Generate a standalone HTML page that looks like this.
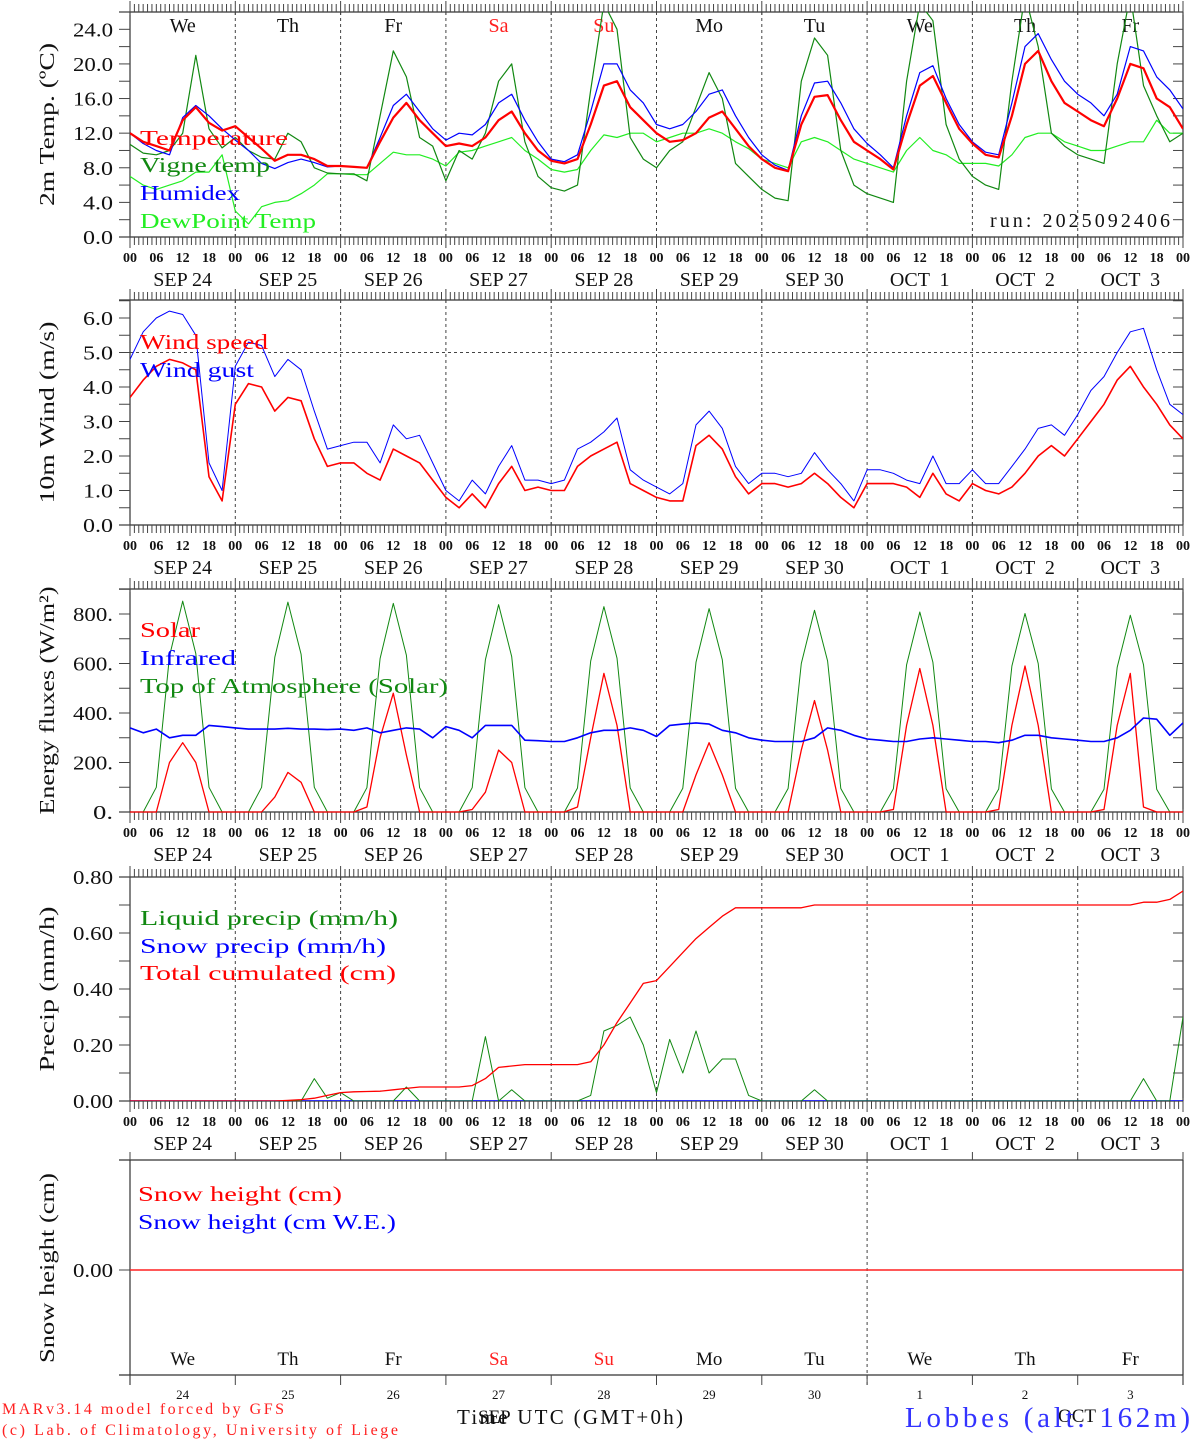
<!DOCTYPE html>
<html><head><meta charset="utf-8"><title>MAR forecast Lobbes</title>
<style>
html,body{margin:0;padding:0;background:#fff;}
svg{display:block;font-family:"Liberation Serif",serif;}
text{white-space:pre;}
</style></head>
<body>
<svg id="chart" width="1194" height="1440" viewBox="0 0 1194 1440" xmlns="http://www.w3.org/2000/svg">
<defs>
<clipPath id="c1"><rect x="130" y="12" width="1053" height="225"/></clipPath>
<clipPath id="c2"><rect x="130" y="300" width="1053" height="225"/></clipPath>
<clipPath id="c3"><rect x="130" y="589" width="1053" height="224"/></clipPath>
<clipPath id="c4"><rect x="130" y="877" width="1053" height="224"/></clipPath>
<clipPath id="c5"><rect x="130" y="1160" width="1053" height="215"/></clipPath>
</defs>
</svg>
<script>
// ---- data (3-hourly, SEP 24 00UTC .. OCT 4 00UTC) ----
const dayNames = ["We","Th","Fr","Sa","Su","Mo","Tu","We","Th","Fr"];
const dateLabels = ["SEP 24","SEP 25","SEP 26","SEP 27","SEP 28","SEP 29","SEP 30","OCT  1","OCT  2","OCT  3"];
const dateNums = ["24","25","26","27","28","29","30","1","2","3"];
const hourLabels = ["00","06","12","18"];

const temperature = [
12.0,11.0,10.5,10.0,13.5,15.0,13.2,12.3,
12.8,11.5,10.2,8.8,9.5,9.5,9.0,8.2,
8.2,8.1,8.0,11.0,13.8,15.5,13.5,12.0,
10.5,10.8,10.5,11.5,13.5,14.5,12.0,10.0,
8.8,8.5,9.0,13.0,17.5,18.0,15.0,13.5,
12.0,11.0,11.2,12.0,13.8,14.5,12.5,10.5,
9.0,8.0,7.6,13.0,16.2,16.4,13.5,11.0,
10.0,9.0,7.8,13.0,17.5,18.6,15.5,12.5,
10.8,9.5,9.2,14.0,20.0,21.5,18.0,15.5,
14.5,13.5,12.8,16.0,20.0,19.5,16.0,15.0,12.5];
const vigne = [
10.7,9.7,9.5,10.0,12.0,21.0,12.5,10.3,
11.5,10.0,9.2,9.0,12.0,11.0,8.0,7.4,
7.3,7.3,6.5,14.0,21.5,18.5,11.5,10.5,
6.5,10.0,9.0,12.0,18.0,20.0,11.0,7.0,
5.7,5.3,6.0,17.0,27.0,24.0,11.5,9.0,
8.0,10.0,11.0,15.0,19.0,16.0,8.5,7.0,
5.5,4.5,4.2,18.0,23.0,21.0,10.0,6.0,
5.0,4.5,4.0,18.0,27.0,25.0,13.0,9.0,
7.0,6.0,5.5,18.0,28.0,22.0,12.0,10.5,
9.5,9.0,8.5,20.0,28.0,17.5,14.0,11.0,12.0];
const humidex = [
12.0,10.8,10.0,9.5,13.8,15.2,14.0,12.5,
11.2,10.0,8.5,7.9,8.6,9.0,8.6,8.1,
8.2,8.1,8.0,11.5,15.2,16.5,14.5,12.5,
11.2,12.0,11.8,13.0,15.5,16.5,13.5,11.0,
9.0,8.7,9.5,14.5,20.0,20.0,17.0,15.5,
13.0,12.5,13.0,14.5,16.5,17.0,14.0,11.5,
9.5,8.3,7.7,14.0,17.8,18.0,15.5,12.5,
10.8,9.5,8.0,14.0,19.0,19.8,16.0,13.0,
11.0,9.8,9.5,15.5,22.0,23.5,20.5,18.0,
16.5,15.5,14.0,16.5,22.0,21.5,18.5,17.0,14.8];
const dewpoint = [
7.0,6.0,5.5,6.0,6.5,7.5,7.5,9.5,
3.0,1.5,3.5,4.0,4.2,5.0,6.0,7.3,
7.3,7.2,7.2,8.5,9.8,9.5,9.5,9.0,
8.2,9.8,10.0,10.5,11.0,11.5,10.0,9.0,
7.8,7.5,7.8,10.0,11.8,11.5,12.0,12.0,
11.0,11.5,12.0,12.0,12.5,12.0,11.0,10.2,
9.0,8.5,8.0,11.0,11.5,11.0,10.0,9.0,
8.5,8.0,7.5,10.0,11.5,10.0,9.5,8.5,
8.5,8.5,8.2,9.5,11.5,12.0,12.0,11.0,
10.5,10.0,10.0,10.5,11.0,11.0,13.5,12.0,12.0];

const windSpeed = [
3.7,4.2,4.6,4.8,4.7,4.5,1.4,0.7,
3.5,4.1,4.0,3.3,3.7,3.6,2.5,1.7,
1.8,1.8,1.5,1.3,2.2,2.0,1.8,1.3,
0.8,0.5,0.9,0.5,1.2,1.7,1.0,1.1,
1.0,1.0,1.7,2.0,2.2,2.4,1.2,1.0,
0.8,0.7,0.7,2.3,2.6,2.2,1.4,0.9,
1.2,1.2,1.1,1.2,1.5,1.2,0.8,0.5,
1.2,1.2,1.2,1.1,0.8,1.5,0.9,0.7,
1.2,1.0,0.9,1.1,1.5,2.0,2.3,2.0,
2.5,3.0,3.5,4.2,4.6,4.0,3.5,2.9,2.5];
const windGust = [
4.8,5.6,6.0,6.2,6.1,5.5,1.8,1.0,
4.6,5.3,5.2,4.3,4.8,4.5,3.3,2.2,
2.3,2.4,2.4,1.8,2.9,2.5,2.6,1.8,
1.0,0.7,1.3,0.9,1.7,2.3,1.3,1.3,
1.2,1.3,2.2,2.4,2.7,3.1,1.6,1.3,
1.1,0.9,1.2,2.9,3.3,2.8,1.7,1.2,
1.5,1.5,1.4,1.5,2.1,1.6,1.2,0.7,
1.6,1.6,1.5,1.3,1.2,2.0,1.2,1.2,
1.6,1.2,1.2,1.7,2.2,2.8,2.9,2.6,
3.2,3.9,4.3,5.0,5.6,5.7,4.5,3.5,3.2];

const solar = [
0,0,0,200,280,200,0,0,
0,0,0,60,160,120,0,0,
0,0,20,300,480,230,0,0,
0,0,10,80,250,200,0,0,
0,0,20,300,560,350,0,0,
0,0,0,150,280,150,0,0,
0,0,0,250,450,250,0,0,
0,0,10,350,580,350,0,0,
0,0,10,350,590,350,0,0,
0,0,10,350,560,20,0,0,0];
const infrared = [
340,320,335,300,310,310,350,345,
340,335,335,335,338,335,335,333,
335,330,340,320,330,340,335,300,
345,330,300,350,350,350,290,288,
285,285,300,320,330,330,340,330,
305,350,355,360,355,330,320,300,
290,285,285,285,300,340,330,310,
295,290,285,285,295,300,295,290,
285,285,280,290,310,310,300,295,
290,285,285,300,330,380,375,310,360];
const toa = [
0,0,100,630,852,640,100,0,
0,0,100,625,848,637,100,0,
0,0,98,620,843,633,98,0,
0,0,98,615,838,628,98,0,
0,0,97,610,830,622,97,0,
0,0,96,605,822,615,96,0,
0,0,95,600,815,610,95,0,
0,0,94,595,808,605,94,0,
0,0,93,590,802,600,93,0,
0,0,92,585,795,595,92,0,0];

const liquidPrecip = [
0,0,0,0,0,0,0,0,
0,0,0,0,0,0,0.08,0.01,
0.03,0,0,0,0,0.05,0,0,
0,0,0,0.23,0,0.04,0,0,
0,0,0,0.02,0.25,0.27,0.30,0.20,
0.03,0.22,0.10,0.25,0.10,0.15,0.15,0.02,
0,0,0,0,0.04,0,0,0,
0,0,0,0,0,0,0,0,
0,0,0,0,0,0,0,0,
0,0,0,0,0,0.08,0,0,0.30];
const totalCum = [
0,0,0,0,0,0,0,0,
0,0,0,0,0.002,0.005,0.01,0.02,
0.03,0.033,0.034,0.035,0.04,0.045,0.05,0.05,
0.05,0.05,0.055,0.08,0.12,0.125,0.13,0.13,
0.13,0.13,0.13,0.14,0.20,0.28,0.35,0.42,
0.43,0.48,0.53,0.58,0.62,0.66,0.69,0.69,
0.69,0.69,0.69,0.69,0.70,0.70,0.70,0.70,
0.70,0.70,0.70,0.70,0.70,0.70,0.70,0.70,
0.70,0.70,0.70,0.70,0.70,0.70,0.70,0.70,
0.70,0.70,0.70,0.70,0.70,0.71,0.71,0.72,0.75];
const snowPrecip = new Array(81).fill(0);
const snowHeight = new Array(81).fill(0);

const t1Ticks = ["0.0","4.0","8.0","12.0","16.0","20.0","24.0"];
const t2Ticks = ["0.0","1.0","2.0","3.0","4.0","5.0","6.0"];
const t3Ticks = ["0.","200.","400.","600.","800."];
const t4Ticks = ["0.00","0.20","0.40","0.60","0.80"];

// ---- drawing ----
const svg = document.getElementById('chart');
const NS = 'http://www.w3.org/2000/svg';
const X0 = 130, X1 = 1183, HOURS = 240;
function xs(h){ return X0 + h*(X1-X0)/HOURS; }
function mk(tag, attrs, parent){
  const e = document.createElementNS(NS, tag);
  for (const k in attrs) e.setAttribute(k, attrs[k]);
  (parent||svg).appendChild(e);
  return e;
}
function txt(s, x, y, size, color, anchor, parent){
  const t = mk('text', {x:x, y:y, 'font-size':size, fill:color||'#000', 'text-anchor':anchor||'start'}, parent);
  t.textContent = s;
  return t;
}

const panels = [
 {top:12, bot:237, min:0, max:26.0, clip:'c1', ticks:t1Ticks, tickStep:4, minorStep:2, title:'2m Temp. (\u00baC)', tlen:163, name:'temperature-panel'},
 {top:300, bot:525, min:0, max:225/34.5, clip:'c2', ticks:t2Ticks, tickStep:1, minorStep:0.5, title:'10m Wind (m/s)', tlen:182, name:'wind-panel'},
 {top:589, bot:812, min:0, max:900, clip:'c3', ticks:t3Ticks, tickStep:200, minorStep:100, title:'Energy fluxes (W/m\u00b2)', tlen:228, name:'energy-panel'},
 {top:877, bot:1101, min:0, max:0.8, clip:'c4', ticks:t4Ticks, tickStep:0.2, minorStep:0.1, title:'Precip (mm/h)', tlen:165, name:'precip-panel'},
];
panels[2].max = (812-589)/((812-614)/800);

function ys(p, v){ return p.bot - (v-p.min)/(p.max-p.min)*(p.bot-p.top); }

function tickLabel(s, y, g){
  const t = txt(s, 113, y, 20, '#111', 'end', g);
  t.setAttribute('textLength', s.length*10);
  t.setAttribute('lengthAdjust', 'spacingAndGlyphs');
  
  
}
function yTitle(s, cy, len, g){
  const tt = txt(s, 0, 0, 21, '#111', 'middle', g);
  tt.setAttribute('transform', 'translate(54,'+cy+') rotate(-90)');
  tt.setAttribute('textLength', len);
  tt.setAttribute('lengthAdjust', 'spacingAndGlyphs');
  
  
}

function drawFrame(p, idx){
  const g = mk('g', {});
  
  
  mk('line',{x1:119,y1:p.top,x2:X1,y2:p.top,stroke:'#333','stroke-width':1.2},g);
  mk('line',{x1:119,y1:p.bot,x2:X1,y2:p.bot,stroke:'#333','stroke-width':1.2},g);
  mk('line',{x1:X0,y1:p.top,x2:X0,y2:p.bot,stroke:'#333','stroke-width':1.2},g);
  mk('line',{x1:X1,y1:p.top,x2:X1,y2:p.bot,stroke:'#333','stroke-width':1.2},g);
  for (let h=0; h<=HOURS; h++){
    const x = xs(h);
    const major = h%24===0;
    const L = major?11:8;
    mk('line',{x1:x,y1:p.top+(major?3:0),x2:x,y2:p.top-L,stroke:'#444','stroke-width':1},g);
    mk('line',{x1:x,y1:p.bot-(major?3:0),x2:x,y2:p.bot+L,stroke:'#444','stroke-width':1},g);
  }
  for (let d=1; d<10; d++){
    mk('line',{x1:xs(d*24),y1:p.top,x2:xs(d*24),y2:p.bot,stroke:'#444','stroke-width':1,'stroke-dasharray':'3,3'},g);
  }
  for (let v=p.min; v<=p.max+1e-9; v+=p.minorStep){
    const y = ys(p,v);
    mk('line',{x1:119,y1:y,x2:X0,y2:y,stroke:'#444','stroke-width':1},g);
    mk('line',{x1:X1-10,y1:y,x2:X1,y2:y,stroke:'#444','stroke-width':1},g);
  }
  p.ticks.forEach((s,i)=> tickLabel(s, ys(p,i*p.tickStep)+7, g));
  yTitle(p.title, (p.top+p.bot)/2, p.tlen, g);
  for (let d=0; d<=10; d++){
    for (let k=0; k<4; k++){
      const h = d*24+k*6;
      if (h>HOURS) break;
      const t = txt(hourLabels[k], xs(h), p.bot+25, 14, '#111', 'middle', g);
      t.setAttribute('font-weight', 'bold');
      
      
    }
  }
  dateLabels.forEach((s,d)=>{
    const t = txt(s, xs(d*24+12), p.bot+49, 20, '#111', 'middle', g);
    
    
  });
  return g;
}

function series(p, vals, color, width, name){
  const pts = vals.map((v,i)=> xs(i*3).toFixed(1)+','+ys(p,v).toFixed(1)).join(' ');
  const pl = mk('polyline',{points:pts,fill:'none',stroke:color,'stroke-width':width,'clip-path':'url(#'+p.clip+')','stroke-linejoin':'round'});
  
  
}
function legend(s, x, y, color, name, w){
  const t = txt(s, x, y, 21, color, 'start');
  t.setAttribute('textLength', w);
  t.setAttribute('lengthAdjust', 'spacingAndGlyphs');
  
  
}

panels.forEach(drawFrame);

dayNames.forEach((s,d)=>{
  const c = (d===3||d===4)?'#ff2020':'#111';
  const t = txt(s, xs(d*24+12), 32, 20, c, 'middle');
  
  
});

const P1 = panels[0];
series(P1, dewpoint, '#22ee22', 1.2, 'dewpoint-line');
series(P1, vigne, '#118811', 1.2, 'vigne-temp-line');
series(P1, humidex, '#0000ff', 1.2, 'humidex-line');
series(P1, temperature, '#ff0000', 2.2, 'temperature-line');
legend('Temperature', 140, 145, '#ff0000', 'legend-temperature', 148);
legend('Vigne temp', 140, 172, '#118811', 'legend-vigne-temp', 130);
legend('Humidex', 140, 200, '#0000ff', 'legend-humidex', 100);
legend('DewPoint Temp', 140, 228, '#22ee22', 'legend-dewpoint', 176);
(function(){const t = txt('run: 2025092406', 990, 227, 20, '#111', 'start');
t.setAttribute('textLength', 180);

})();

const P2 = panels[1];
mk('line',{x1:X0,y1:ys(P2,5),x2:X1,y2:ys(P2,5),stroke:'#444','stroke-width':1,'stroke-dasharray':'3,3'});
series(P2, windGust, '#0000ff', 1, 'wind-gust-line');
series(P2, windSpeed, '#ff0000', 1.6, 'wind-speed-line');
legend('Wind speed', 140, 349, '#ff0000', 'legend-wind-speed', 128);
legend('Wind gust', 140, 377, '#0000ff', 'legend-wind-gust', 114);

const P3 = panels[2];
series(P3, toa, '#118811', 1, 'toa-line');
series(P3, solar, '#ff0000', 1.3, 'solar-line');
series(P3, infrared, '#0000ff', 1.6, 'infrared-line');
legend('Solar', 140, 637, '#ff0000', 'legend-solar', 60);
legend('Infrared', 140, 665, '#0000ff', 'legend-infrared', 96);
legend('Top of Atmosphere (Solar)', 140, 693, '#118811', 'legend-toa', 308);

const P4 = panels[3];
series(P4, snowPrecip, '#0000ff', 1.5, 'snow-precip-line');
series(P4, liquidPrecip, '#118811', 1, 'liquid-precip-line');
series(P4, totalCum, '#ff0000', 1.3, 'total-cumulated-line');
legend('Liquid precip (mm/h)', 140, 925, '#118811', 'legend-liquid-precip', 258);
legend('Snow precip (mm/h)', 140, 953, '#0000ff', 'legend-snow-precip', 246);
legend('Total cumulated (cm)', 140, 980, '#ff0000', 'legend-total-cumulated', 256);

const P5 = {top:1160, bot:1375, min:-1, max:1, clip:'c5'};
P5.max = 1; P5.min = -(1375-1270)/(1270-1160);
(function(){
  const g = mk('g',{});
  
  
  mk('line',{x1:119,y1:P5.top,x2:X1,y2:P5.top,stroke:'#333','stroke-width':1.2},g);
  mk('line',{x1:119,y1:P5.bot,x2:X1,y2:P5.bot,stroke:'#333','stroke-width':1.2},g);
  mk('line',{x1:X0,y1:P5.top,x2:X0,y2:P5.bot+10,stroke:'#333','stroke-width':1.2},g);
  mk('line',{x1:X1,y1:P5.top,x2:X1,y2:P5.bot+10,stroke:'#333','stroke-width':1.2},g);
  for (let d=0; d<=10; d++){
    mk('line',{x1:xs(d*24),y1:P5.bot,x2:xs(d*24),y2:P5.bot+10,stroke:'#444','stroke-width':1},g);
    mk('line',{x1:xs(d*24),y1:P5.top,x2:xs(d*24),y2:P5.top-8,stroke:'#444','stroke-width':1},g);
  }
  mk('line',{x1:xs(168),y1:P5.top,x2:xs(168),y2:P5.bot+10,stroke:'#444','stroke-width':1,'stroke-dasharray':'3,3'},g);
  mk('line',{x1:119,y1:ys(P5,0),x2:X0,y2:ys(P5,0),stroke:'#444','stroke-width':1},g);
  tickLabel('0.00', ys(P5,0)+7, g);
  yTitle('Snow height (cm)', 1268, 190, g);
  dayNames.forEach((s,d)=>{
    const c = (d===3||d===4)?'#ff2020':'#111';
    const t = txt(s, xs(d*24+12), 1365, 19, c, 'middle', g);
    
    
  });
  dateNums.forEach((s,d)=>{
    const t = txt(s, xs(d*24+12), 1399, 13, '#111', 'middle', g);
    
    
  });
})();
series(P5, snowHeight, '#ff2020', 1.5, 'snow-height-line');
legend('Snow height (cm)', 138, 1201, '#ff0000', 'legend-snow-height', 204);
legend('Snow height (cm W.E.)', 138, 1229, '#0000ff', 'legend-snow-height-we', 258);

(function(){
  let t = txt('Time UTC (GMT+0h)', 457, 1424, 21, '#111', 'start');
  t.setAttribute('textLength', 226);
  
  
  t = txt('SEP', 478, 1423, 19, '#111', 'start');
  
  
  t = txt('OCT', 1058, 1422, 19, '#111', 'start');
  
  
  t = txt('Lobbes (alt. 162m)', 905, 1427, 29, '#3333ff', 'start');
  t.setAttribute('textLength', 285);
  
  
  t = txt('MARv3.14 model forced by GFS', 2, 1414, 16, '#ff2020', 'start');
  t.setAttribute('textLength', 282);
  
  
  t = txt('(c) Lab. of Climatology, University of Liege', 2, 1435, 16, '#ff2020', 'start');
  t.setAttribute('textLength', 396);
  
  
})();
</script>
</body></html>
